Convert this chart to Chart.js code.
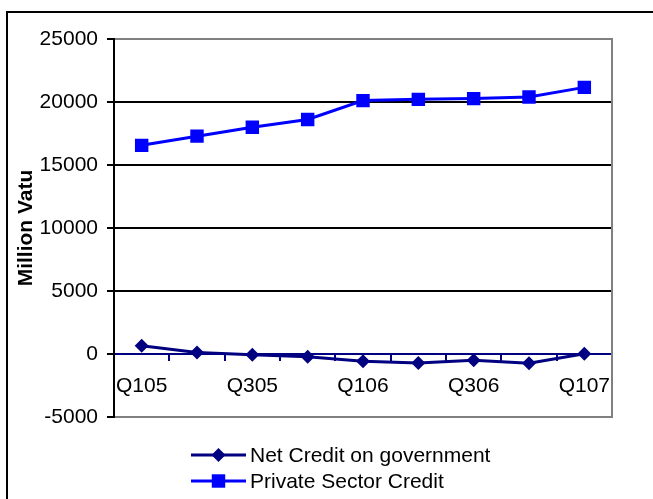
<!DOCTYPE html>
<html>
<head>
<meta charset="utf-8">
<script src="https://cdn.jsdelivr.net/npm/chart.js@4/dist/chart.umd.min.js"></script>
<style>
  html, body { margin: 0; padding: 0; background: #fff; overflow: hidden; }
  #wrap { position: relative; width: 653px; height: 499px; overflow: hidden; }
  #frame { position: absolute; left: 6px; top: 11px; width: 700px; height: 600px; border: 2px solid #000; box-sizing: border-box; }
  #chart { position: absolute; left: 0; top: 0; }
</style>
</head>
<body>
<div id="wrap">
  <div id="frame"></div>
  <canvas id="chart" width="653" height="499"></canvas>
</div>
<script>
// quarterly credit figures, million vatu
const quarters = ['Q105', 'Q205', 'Q305', 'Q405', 'Q106', 'Q206', 'Q306', 'Q406', 'Q107'];
const netCreditGov = [655, 126, -55, -210, -580, -710, -500, -740, 20];
const privateCredit = [16560, 17290, 18000, 18610, 20110, 20210, 20270, 20390, 21160];
const yMin = -5000;
const yMax = 25000;
const yStep = 5000;

const FONT = '"Liberation Sans", Arial, sans-serif';
Chart.defaults.font.family = FONT;
Chart.defaults.font.size = 21;
Chart.defaults.color = '#000';

// gray right edge of the plot box
const plotFrame = {
  id: 'plotFrame',
  beforeDatasetsDraw(chart) {
    const { ctx, chartArea } = chart;
    ctx.save();
    ctx.strokeStyle = '#808080';
    ctx.lineWidth = 2;
    ctx.beginPath();
    ctx.moveTo(chartArea.right, chartArea.top - 1);
    ctx.lineTo(chartArea.right, chartArea.bottom + 1);
    ctx.stroke();
    ctx.restore();
  }
};

// legend stacked under the plot, one series per row
const stackedLegend = {
  id: 'stackedLegend',
  afterDraw(chart) {
    const ctx = chart.ctx;
    const x0 = 191, len = 55;
    const rows = [455, 481];
    chart.data.datasets.forEach((ds, i) => {
      const y = rows[i];
      const cx = x0 + len / 2;
      ctx.save();
      ctx.strokeStyle = ds.borderColor;
      ctx.lineWidth = ds.borderWidth;
      ctx.beginPath();
      ctx.moveTo(x0, y);
      ctx.lineTo(x0 + len, y);
      ctx.stroke();
      ctx.fillStyle = ds.pointBackgroundColor;
      const r = ds.pointRadius;
      ctx.beginPath();
      if (ds.pointStyle === 'rectRot') {
        ctx.moveTo(cx, y - r);
        ctx.lineTo(cx + r, y);
        ctx.lineTo(cx, y + r);
        ctx.lineTo(cx - r, y);
        ctx.closePath();
      } else {
        const h = r * Math.SQRT1_2;
        ctx.rect(cx - h, y - h, 2 * h, 2 * h);
      }
      ctx.fill();
      ctx.fillStyle = '#000';
      ctx.font = '21px ' + FONT;
      ctx.textBaseline = 'alphabetic';
      ctx.fillText(ds.label, x0 + len + 4, y + 7);
      ctx.restore();
    });
  }
};

new Chart(document.getElementById('chart'), {
  type: 'line',
  data: {
    labels: quarters,
    datasets: [
      {
        label: 'Net Credit on government',
        data: netCreditGov,
        borderColor: '#000080',
        backgroundColor: '#000080',
        pointBackgroundColor: '#000080',
        borderWidth: 3,
        pointStyle: 'rectRot',
        pointRadius: 7,
        pointBorderWidth: 0,
        tension: 0
      },
      {
        label: 'Private Sector Credit',
        data: privateCredit,
        borderColor: '#0000FF',
        backgroundColor: '#0000FF',
        pointBackgroundColor: '#0000FF',
        borderWidth: 3,
        pointStyle: 'rect',
        pointRadius: 9.5,
        pointBorderWidth: 0,
        tension: 0
      }
    ]
  },
  options: {
    responsive: false,
    animation: false,
    layout: { padding: { left: 0, top: 39, right: 41, bottom: 82 } },
    plugins: {
      legend: { display: false },
      tooltip: { enabled: false }
    },
    scales: {
      x: {
        position: { y: 0 },
        offset: true,
        grid: {
          offset: true,
          drawOnChartArea: false,
          tickLength: 6,
          tickColor: '#000080',
          lineWidth: 2
        },
        border: { color: '#000080', width: 2 },
        ticks: {
          autoSkip: false,
          maxRotation: 0,
          padding: 14,
          color: '#000',
          callback: (v, i) => (i % 2 === 0 ? quarters[i] : '')
        }
      },
      y: {
        min: yMin,
        max: yMax,
        afterFit: (s) => { s.width = 114; },
        ticks: { stepSize: yStep, padding: 9, color: '#000', callback: (v) => String(v) },
        grid: {
          lineWidth: 2,
          tickLength: 7,
          tickColor: '#000',
          color: (c) => {
            const v = c.tick ? c.tick.value : null;
            if (v === yMin || v === yMax) return '#808080';
            if (v === 0) return '#000080';
            return '#000';
          }
        },
        border: { color: '#000', width: 2 },
        title: {
          display: true,
          text: 'Million Vatu',
          font: { size: 21, weight: 'bold' },
          padding: { top: 14, bottom: 0 },
          color: '#000'
        }
      }
    }
  },
  plugins: [plotFrame, stackedLegend]
});
</script>
</body>
</html>
